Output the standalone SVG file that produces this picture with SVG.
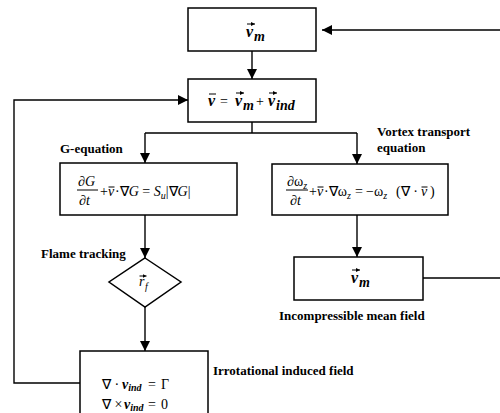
<svg xmlns="http://www.w3.org/2000/svg" width="500" height="413" viewBox="0 0 500 413">
<defs>
<marker id="ah" markerWidth="10" markerHeight="10" viewBox="0 0 10 10" refX="10" refY="5" orient="auto" markerUnits="userSpaceOnUse">
<path d="M0,0 L10,5 L0,10 z" fill="#000"/>
</marker>
<marker id="va" markerWidth="4" markerHeight="4" viewBox="0 0 4 4" refX="4" refY="2" orient="auto" markerUnits="userSpaceOnUse">
<path d="M0,0 L4,2 L0,4 z" fill="#000"/>
</marker>
<style>
.box{fill:#fff;stroke:#000;stroke-width:1.5}
.con{fill:none;stroke:#000;stroke-width:1.4}
.arr{marker-end:url(#ah)}
.lbl{font-family:"Liberation Serif",serif;font-weight:bold;font-size:13px;fill:#000}
.eq{font-family:"Liberation Serif",serif;font-size:14px;fill:#000}
.big{font-size:16px;font-weight:bold;font-style:italic}
.it{font-style:italic}
.b{font-weight:bold}
.sub{font-size:10px}
.bar{stroke:#000;stroke-width:1}
.vec{stroke:#000;stroke-width:1;marker-end:url(#va)}
</style>
</defs>
<rect width="500" height="413" fill="#fff"/>
<g id="connectors">
<path class="con arr" d="M252,51 V79"/>
<path class="con arr" d="M80,383 H14 V100 H188"/>
<path class="con" d="M252,122 V133 M145,133 H357"/>
<path class="con arr" d="M145,133 V163"/>
<path class="con arr" d="M357,133 V164"/>
<path class="con arr" d="M145,215 V258"/>
<path class="con arr" d="M145,307 V351"/>
<path class="con arr" d="M357,215 V257"/>
<path class="con arr" d="M423,278 H520 V30 H322"/>
</g>
<g id="vm-top">
<rect class="box" x="188" y="8" width="128" height="43"/>
<text class="eq big" x="246" y="37">v</text>
<line class="vec" x1="247" y1="24" x2="255" y2="24"/>
<text class="eq it b" x="254" y="41" font-size="11">m</text>
</g>
<g id="velocity-sum">
<rect class="box" x="188" y="79" width="128" height="43"/>
<text class="eq big" x="208" y="106">v</text>
<line class="bar" x1="209" y1="94" x2="216" y2="94"/>
<text class="eq" x="220" y="106" font-size="16">=</text>
<text class="eq big" x="235" y="106">v</text>
<line class="vec" x1="236" y1="93" x2="244" y2="93"/>
<text class="eq it b" x="243" y="110" font-size="11">m</text>
<text class="eq" x="256" y="106" font-size="16">+</text>
<text class="eq big" x="268" y="106">v</text>
<line class="vec" x1="269" y1="93" x2="277" y2="93"/>
<text class="eq it b" x="276" y="110" font-size="11">ind</text>
</g>
<g id="g-equation">
<text class="lbl" x="60" y="153">G-equation</text>
<rect class="box" x="60" y="163" width="177" height="52"/>
<text class="eq it" x="78" y="186">∂G</text>
<line x1="77" y1="190" x2="98" y2="190" stroke="#000" stroke-width="1"/>
<text class="eq it" x="79" y="205">∂t</text>
<text class="eq" x="100" y="196">+</text>
<text class="eq it" x="108" y="196">v</text>
<line class="bar" x1="108.5" y1="187" x2="114.5" y2="187"/>
<text class="eq" x="115" y="196">·∇<tspan class="it">G</tspan> = <tspan class="it">S</tspan><tspan class="sub it" dy="3">u</tspan><tspan dy="-3">|∇</tspan><tspan class="it">G</tspan>|</text>
</g>
<g id="vortex-transport">
<text class="lbl" x="377" y="136">Vortex transport</text>
<text class="lbl" x="377" y="152">equation</text>
<rect class="box" x="272" y="164" width="176" height="51"/>
<text class="eq" x="287" y="186">∂ω<tspan class="sub it" dy="3">z</tspan></text>
<line x1="286" y1="190" x2="308" y2="190" stroke="#000" stroke-width="1"/>
<text class="eq it" x="290" y="205">∂t</text>
<text class="eq" x="309" y="196">+</text>
<text class="eq it" x="317" y="196">v</text>
<line class="bar" x1="317.5" y1="187" x2="323.5" y2="187"/>
<text class="eq" x="324" y="196">·∇ω<tspan class="sub it" dy="3">z</tspan></text>
<text class="eq" x="355" y="196">=</text>
<text class="eq" x="366" y="196">−ω<tspan class="sub it" dy="3">z</tspan></text>
<text class="eq" x="396" y="196">(∇ ·</text>
<text class="eq it" x="421" y="196">v</text>
<line class="bar" x1="421.5" y1="187" x2="427.5" y2="187"/>
<text class="eq" x="430" y="196">)</text>
</g>
<g id="flame-tracking">
<text class="lbl" x="41" y="258">Flame tracking</text>
<polygon class="box" points="145,258 181,282 145,307 109,282"/>
<text class="eq it" x="139" y="286">r</text>
<line class="vec" x1="139.5" y1="276" x2="146.5" y2="276"/>
<text class="eq it sub" x="145" y="290">f</text>
</g>
<g id="vm-mean">
<rect class="box" x="294" y="257" width="129" height="43"/>
<text class="eq big" x="351" y="283">v</text>
<line class="vec" x1="352" y1="270" x2="360" y2="270"/>
<text class="eq it b" x="359" y="287" font-size="11">m</text>
<text class="lbl" x="279" y="320">Incompressible mean field</text>
</g>
<g id="induced-field">
<rect class="box" x="80" y="351" width="128" height="75"/>
<text class="eq" x="102" y="389">∇ ·</text>
<text class="eq it b" x="122" y="389">v<tspan class="sub" dy="2">ind</tspan></text>
<text class="eq" x="148" y="389">=</text>
<text class="eq" x="161" y="389" font-size="15">Γ</text>
<text class="eq" x="102" y="409">∇ ×</text>
<text class="eq it b" x="124" y="409">v<tspan class="sub" dy="2">ind</tspan></text>
<text class="eq" x="148" y="409">=</text>
<text class="eq" x="161" y="409" font-size="15">0</text>
<text class="lbl" x="213" y="375" font-size="13.5">Irrotational induced field</text>
</g>
</svg>
